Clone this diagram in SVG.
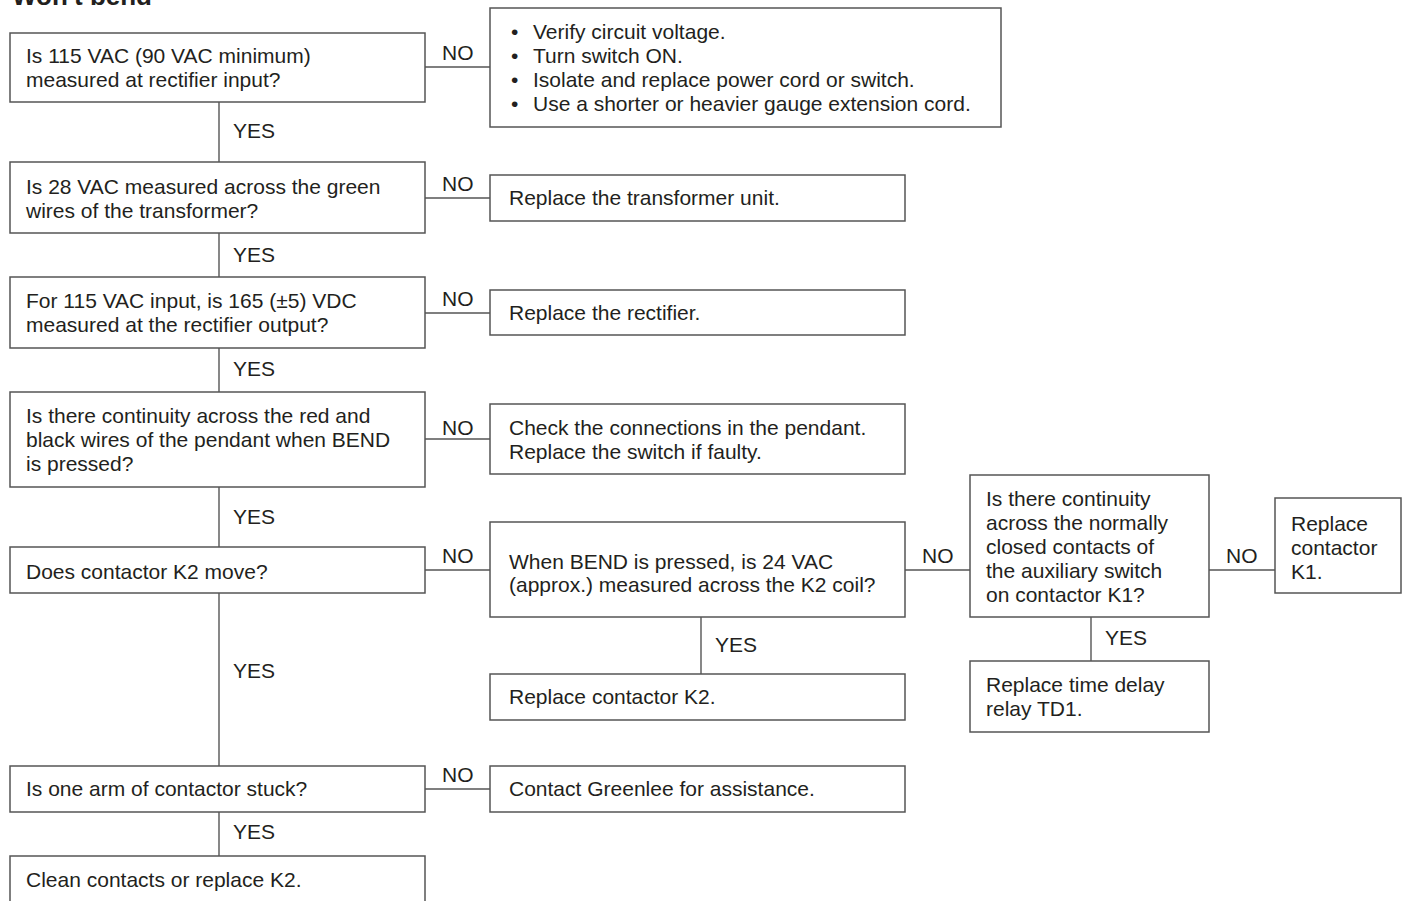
<svg xmlns="http://www.w3.org/2000/svg" width="1403" height="901" viewBox="0 0 1403 901">
<style>
.box{fill:#fff;stroke:#555;stroke-width:1.5}
.ln{fill:none;stroke:#555;stroke-width:1.4}
text{font-family:"Liberation Sans",Arial,sans-serif;font-size:21px;fill:#231f20}
.title{font-weight:bold;font-size:26px}
</style>
<rect width="1403" height="901" fill="#fff"/>
<text class="title" x="12" y="5">Won't bend</text>
<g id="connectors">
<line class="ln" x1="425" y1="67" x2="490" y2="67"/>
<line class="ln" x1="219" y1="102" x2="219" y2="162"/>
<line class="ln" x1="425" y1="198" x2="490" y2="198"/>
<line class="ln" x1="219" y1="233" x2="219" y2="277"/>
<line class="ln" x1="425" y1="313" x2="490" y2="313"/>
<line class="ln" x1="219" y1="348" x2="219" y2="392"/>
<line class="ln" x1="425" y1="439" x2="490" y2="439"/>
<line class="ln" x1="219" y1="487" x2="219" y2="547"/>
<line class="ln" x1="425" y1="570" x2="490" y2="570"/>
<line class="ln" x1="905" y1="570" x2="970" y2="570"/>
<line class="ln" x1="1209" y1="570" x2="1275" y2="570"/>
<line class="ln" x1="701" y1="617" x2="701" y2="674"/>
<line class="ln" x1="1091" y1="617" x2="1091" y2="661"/>
<line class="ln" x1="219" y1="593" x2="219" y2="766"/>
<line class="ln" x1="425" y1="789" x2="490" y2="789"/>
<line class="ln" x1="219" y1="812" x2="219" y2="856"/>
<text x="442" y="60">NO</text>
<text x="233" y="138">YES</text>
<text x="442" y="191">NO</text>
<text x="233" y="262">YES</text>
<text x="442" y="306">NO</text>
<text x="233" y="376">YES</text>
<text x="442" y="435">NO</text>
<text x="233" y="524">YES</text>
<text x="442" y="563">NO</text>
<text x="922" y="563">NO</text>
<text x="1226" y="563">NO</text>
<text x="715" y="652">YES</text>
<text x="1105" y="645">YES</text>
<text x="233" y="678">YES</text>
<text x="442" y="782">NO</text>
<text x="233" y="839">YES</text>
</g>
<g id="n1"><rect class="box" x="10" y="33" width="415" height="69"/><text x="26" y="63">Is 115 VAC (90 VAC minimum)</text><text x="26" y="87">measured at rectifier input?</text></g>
<g id="n2"><rect class="box" x="490" y="8" width="511" height="119"/>
<text x="511" y="39">•</text><text x="533" y="39">Verify circuit voltage.</text>
<text x="511" y="63">•</text><text x="533" y="63">Turn switch ON.</text>
<text x="511" y="87">•</text><text x="533" y="87">Isolate and replace power cord or switch.</text>
<text x="511" y="111">•</text><text x="533" y="111">Use a shorter or heavier gauge extension cord.</text></g>
<g id="n3"><rect class="box" x="10" y="162" width="415" height="71"/><text x="26" y="194">Is 28 VAC measured across the green</text><text x="26" y="218">wires of the transformer?</text></g>
<g id="n4"><rect class="box" x="490" y="175" width="415" height="46"/><text x="509" y="205">Replace the transformer unit.</text></g>
<g id="n5"><rect class="box" x="10" y="277" width="415" height="71"/><text x="26" y="308">For 115 VAC input, is 165 (±5) VDC</text><text x="26" y="332">measured at the rectifier output?</text></g>
<g id="n6"><rect class="box" x="490" y="290" width="415" height="45"/><text x="509" y="320">Replace the rectifier.</text></g>
<g id="n7"><rect class="box" x="10" y="392" width="415" height="95"/><text x="26" y="423">Is there continuity across the red and</text><text x="26" y="447">black wires of the pendant when BEND</text><text x="26" y="471">is pressed?</text></g>
<g id="n8"><rect class="box" x="490" y="404" width="415" height="70"/><text x="509" y="435">Check the connections in the pendant.</text><text x="509" y="459">Replace the switch if faulty.</text></g>
<g id="n9"><rect class="box" x="10" y="547" width="415" height="46"/><text x="26" y="579">Does contactor K2 move?</text></g>
<g id="n10"><rect class="box" x="490" y="522" width="415" height="95"/><text x="509" y="569">When BEND is pressed, is 24 VAC</text><text x="509" y="592">(approx.) measured across the K2 coil?</text></g>
<g id="n11"><rect class="box" x="970" y="475" width="239" height="142"/><text x="986" y="506">Is there continuity</text><text x="986" y="530">across the normally</text><text x="986" y="554">closed contacts of</text><text x="986" y="578">the auxiliary switch</text><text x="986" y="602">on contactor K1?</text></g>
<g id="n12"><rect class="box" x="1275" y="498" width="126" height="95"/><text x="1291" y="531">Replace</text><text x="1291" y="555">contactor</text><text x="1291" y="579">K1.</text></g>
<g id="n13"><rect class="box" x="490" y="674" width="415" height="46"/><text x="509" y="704">Replace contactor K2.</text></g>
<g id="n14"><rect class="box" x="970" y="661" width="239" height="71"/><text x="986" y="692">Replace time delay</text><text x="986" y="716">relay TD1.</text></g>
<g id="n15"><rect class="box" x="10" y="766" width="415" height="46"/><text x="26" y="796">Is one arm of contactor stuck?</text></g>
<g id="n16"><rect class="box" x="490" y="766" width="415" height="46"/><text x="509" y="796">Contact Greenlee for assistance.</text></g>
<g id="n17"><rect class="box" x="10" y="856" width="415" height="60"/><text x="26" y="887">Clean contacts or replace K2.</text></g>
</svg>
